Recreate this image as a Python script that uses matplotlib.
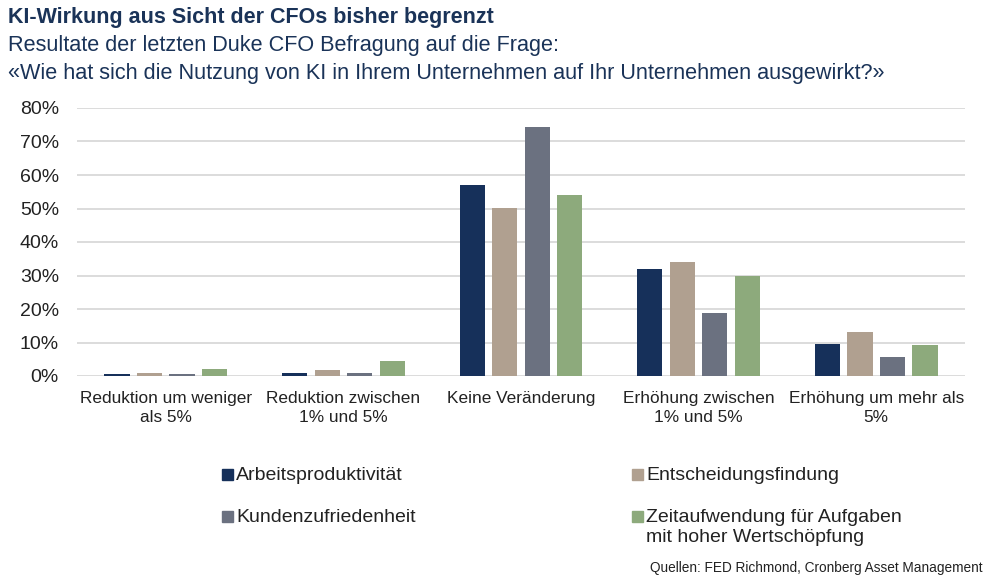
import matplotlib.pyplot as plt
from matplotlib.patches import Rectangle
import numpy as np

plt.rcParams['font.family'] = ['Liberation Sans', 'DejaVu Sans']

categories = ['Reduktion um weniger\nals 5%', 'Reduktion zwischen\n1% und 5%', 'Keine Veränderung',
              'Erhöhung zwischen\n1% und 5%', 'Erhöhung um mehr als\n5%']
series = ['Arbeitsproduktivität', 'Entscheidungsfindung', 'Kundenzufriedenheit',
          'Zeitaufwendung für Aufgaben\nmit hoher Wertschöpfung']
arbeit = [0.6, 0.9, 57.0, 32.0, 9.7]
entscheid = [0.9, 1.8, 50.2, 34.0, 13.0]
kunden = [0.6, 0.9, 74.2, 18.8, 5.7]
zeit = [2.1, 4.4, 54.0, 30.0, 9.4]
colors = ['#16305a', '#b0a090', '#6b7180', '#8daa7c']

W, H = 1008, 582
navy = '#1a3358'
txt = '#222222'
fig = plt.figure(figsize=(W / 100, H / 100), dpi=100)
fig.text(8 / W, 1 - 18 / H, 'KI-Wirkung aus Sicht der CFOs bisher begrenzt', fontsize=15.5,
         fontweight='bold', color=navy, va='center')
fig.text(8 / W, 1 - 46 / H, 'Resultate der letzten Duke CFO Befragung auf die Frage:', fontsize=15.6,
         color=navy, va='center')
fig.text(8 / W, 1 - 73 / H, '«Wie hat sich die Nutzung von KI in Ihrem Unternehmen auf Ihr Unternehmen ausgewirkt?»',
         fontsize=15.6, color=navy, va='center')

ax = fig.add_axes([77 / W, 1 - 376 / H, 888 / W, 268 / H])
x = np.arange(len(categories))
step = 0.183
width = 0.142
for i, vals in enumerate([arbeit, entscheid, kunden, zeit]):
    ax.bar(x + (i - 1.5) * step, np.array(vals) / 100, width, color=colors[i], zorder=3)

ax.set_xlim(-0.5, len(categories) - 0.5)
ax.set_ylim(0, 0.8)
ticks = np.arange(0, 0.81, 0.1)
ax.set_yticks(ticks)
ax.set_yticklabels([f'{int(round(v * 100))}%' for v in ticks], fontsize=14, color=txt)
ax.set_xticks(x)
ax.set_xticklabels(categories, fontsize=12.4, color=txt, linespacing=1.3)
ax.tick_params(axis='x', length=0, pad=11)
ax.tick_params(axis='y', length=0, pad=13)
ax.grid(axis='y', color='#d9d9d9', linewidth=1.3, zorder=0)
for s in ax.spines.values():
    s.set_visible(False)

# legend, drawn by hand so the marker sits on the first line of a two-line label
leg_x = [222, 632]
leg_y = [474, 474, 516, 516]
for i, name in enumerate(series):
    lx = leg_x[i % 2]
    ly = leg_y[i]
    fig.patches.append(Rectangle((lx / W, 1 - (ly + 5.5) / H), 11 / W, 11 / H,
                                 transform=fig.transFigure, color=colors[i], figure=fig))
    fig.text((lx + 14) / W, 1 - (ly - 7) / H, name, fontsize=14, color=txt, va='top',
             linespacing=1.25)

fig.text(982 / W, 1 - 568 / H, 'Quellen: FED Richmond, Cronberg Asset Management', fontsize=9.8,
         ha='right', va='center', color=txt)

plt.savefig('out.png', dpi=100)
